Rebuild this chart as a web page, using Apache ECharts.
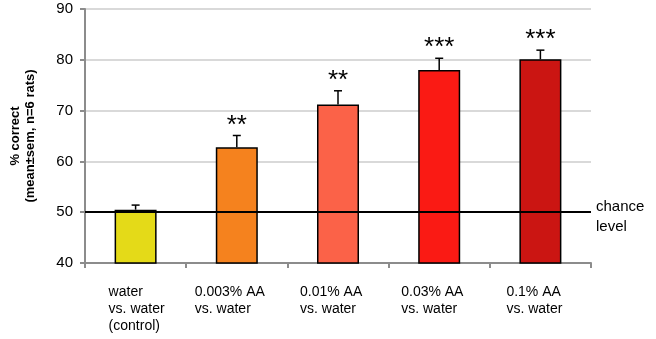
<!DOCTYPE html>
<html><head><meta charset="utf-8">
<script src="https://cdn.jsdelivr.net/npm/echarts@6/dist/echarts.min.js"></script>
<style>html,body{margin:0;padding:0;background:#fff}#c{width:656px;height:339px}</style>
</head><body><div id="c"></div>
<script>
var categories = ['water\nvs. water\n(control)', '0.003% AA\nvs. water', '0.01% AA\nvs. water', '0.03% AA\nvs. water', '0.1% AA\nvs. water'];
var means = [50.5, 62.8, 71.2, 78.0, 80.1];
var sems = [0.9, 2.3, 2.7, 2.3, 1.8];
var stars = ['', '**', '**', '***', '***'];
var colors = ['#E4DA18', '#F5821E', '#FB6248', '#FA1A14', '#CB1512'];
var yTicks = [40, 50, 60, 70, 80, 90];
var chanceLevel = 50;

var labelBoxWidths = [54, 84, 76, 76, 68];
var rich = {};
labelBoxWidths.forEach(function (w, i) {
  rich['c' + i] = { width: w, align: 'left', fontSize: 14, lineHeight: 17, color: '#000', fontFamily: 'Liberation Sans' };
});

var chart = echarts.init(document.getElementById('c'), null, { renderer: 'canvas' });
chart.setOption({
  animation: false,
  grid: { left: 80, right: 65, top: 9, bottom: 76 },
  xAxis: {
    type: 'category',
    data: categories,
    axisLine: { lineStyle: { color: '#8c8c8c', width: 2 } },
    axisTick: { show: true, length: 5, lineStyle: { color: '#8c8c8c', width: 2 } },
    axisLabel: {
      margin: 21,
      interval: 0,
      formatter: function (v, idx) {
        return v.split('\n').map(function (l) { return '{c' + idx + '|' + l + '}'; }).join('\n');
      },
      rich: rich
    }
  },
  yAxis: {
    type: 'value',
    min: yTicks[0], max: yTicks[yTicks.length - 1], interval: 10,
    name: '% correct\n(mean±sem, n=6 rats)',
    nameLocation: 'middle',
    nameRotate: 90,
    nameGap: 47,
    nameTextStyle: { fontSize: 13, fontWeight: 'bold', color: '#000', lineHeight: 15, fontFamily: 'Liberation Sans' },
    axisLine: { show: true, lineStyle: { color: '#8c8c8c', width: 2 } },
    axisTick: { show: true, length: 5, lineStyle: { color: '#8c8c8c', width: 2 } },
    axisLabel: { fontSize: 15, color: '#000', margin: 12, fontFamily: 'Liberation Sans' },
    splitLine: { lineStyle: { color: '#d9d9d9', width: 2 } }
  },
  series: [
    {
      type: 'bar',
      barWidth: 42,
      z: 2,
      data: means.map(function (v, i) {
        return { value: v, itemStyle: { color: colors[i], borderColor: '#000', borderWidth: 1.5 } };
      }),
      markLine: {
        silent: true,
        symbol: 'none',
        z: 5,
        lineStyle: { color: '#000', width: 2, type: 'solid' },
        label: {
          show: true, position: 'end', formatter: '{s|}\n{t|chance}\n{t|level}',
          color: '#000', align: 'left', distance: 5,
          rich: {
            s: { height: 10, lineHeight: 10, fontSize: 10 },
            t: { fontSize: 15, lineHeight: 20, color: '#000', fontFamily: 'Liberation Sans' }
          }
        },
        data: [{ yAxis: chanceLevel }]
      }
    },
    {
      type: 'custom',
      z: 6,
      data: means.map(function (v, i) { return [i, v, sems[i]]; }),
      renderItem: function (params, api) {
        var i = api.value(0), m = api.value(1), e = api.value(2);
        var p0 = api.coord([i, m]);
        var p1 = api.coord([i, m + e]);
        var hw = 4;
        var children = [
          { type: 'line', shape: { x1: p0[0], y1: p0[1], x2: p1[0], y2: p1[1] }, style: { stroke: '#000', lineWidth: 1.5 } },
          { type: 'line', shape: { x1: p1[0] - hw, y1: p1[1], x2: p1[0] + hw, y2: p1[1] }, style: { stroke: '#000', lineWidth: 1.5 } }
        ];
        if (stars[params.dataIndex]) {
          children.push({
            type: 'text',
            style: {
              text: stars[params.dataIndex], x: p1[0], y: p1[1] - 10,
              align: 'center', verticalAlign: 'middle',
              fontSize: 26, fontFamily: 'Liberation Sans', fill: '#000'
            }
          });
        }
        return { type: 'group', children: children };
      }
    }
  ]
});
</script></body></html>
